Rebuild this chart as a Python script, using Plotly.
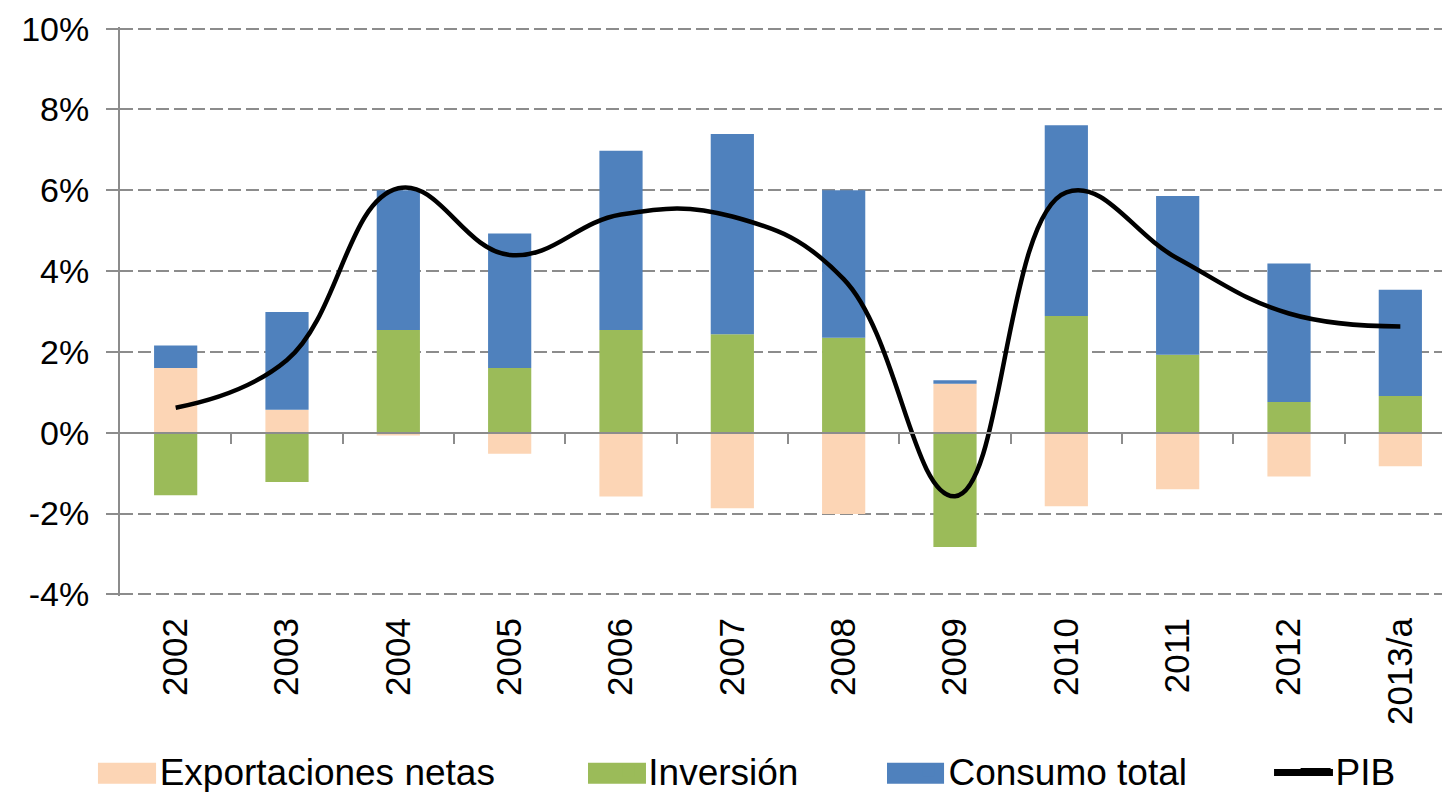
import plotly.graph_objects as go

years = ["2002", "2003", "2004", "2005", "2006", "2007", "2008", "2009", "2010", "2011", "2012", "2013/a"]
exportaciones_netas = [1.60, 0.57, -0.07, -0.52, -1.58, -1.87, -2.01, 1.21, -1.82, -1.40, -1.08, -0.83]
inversion = [-1.55, -1.22, 2.54, 1.60, 2.54, 2.44, 2.35, -2.83, 2.89, 1.93, 0.76, 0.91]
consumo_total = [0.56, 2.42, 3.46, 3.33, 4.44, 4.95, 3.65, 0.09, 4.72, 3.93, 3.43, 2.63]
pib = [0.62, 1.80, 6.05, 4.40, 5.40, 5.35, 3.80, -1.57, 5.95, 4.31, 2.95, 2.63]
y_ticks = [-4, -2, 0, 2, 4, 6, 8, 10]
y_tick_labels = [f"{v}%" for v in y_ticks]

FONT = "Liberation Sans, Arial, sans-serif"
GRAY = "#8c8c8c"
C_EXP = "#FCD5B5"
C_INV = "#9BBB59"
C_CON = "#4F81BD"

Y_MIN, Y_MAX = -4.04, 10.04

fig = go.Figure()
fig.add_trace(go.Bar(x=years, y=exportaciones_netas, name="Exportaciones netas",
                     marker=dict(color=C_EXP, line=dict(width=0)), legend="legend"))
fig.add_trace(go.Bar(x=years, y=inversion, name="Inversión",
                     marker=dict(color=C_INV, line=dict(width=0)), legend="legend2"))
fig.add_trace(go.Bar(x=years, y=consumo_total, name="Consumo total",
                     marker=dict(color=C_CON, line=dict(width=0)), legend="legend3"))
fig.add_trace(go.Scatter(x=years, y=pib, name="PIB", mode="lines",
                         line=dict(color="black", width=4.5, shape="spline", smoothing=1.2),
                         legend="legend4"))
# helper trace so the zero-level axis (x2) exists
fig.add_trace(go.Scatter(x=list(range(len(years))), y=pib, xaxis="x2", mode="lines",
                         opacity=0, showlegend=False, hoverinfo="skip"))

legend_common = dict(orientation="h", xref="container", yref="container",
                     yanchor="middle", y=0.037, xanchor="left",
                     font=dict(family=FONT, size=37, color="black"),
                     bgcolor="rgba(0,0,0,0)", borderwidth=0)

# wider legend swatches (Excel style), placed under the legend symbols
swatches = [
    (C_EXP, -0.0165, 0.0270),
    (C_INV, 0.3503, 0.3937),
    (C_CON, 0.5741, 0.6168),
]
shapes = [dict(type="rect", xref="paper", yref="paper", x0=a, x1=b,
               y0=-0.3298, y1=-0.2929, fillcolor=c, line=dict(width=0), layer="above")
          for c, a, b in swatches]
shapes.append(dict(type="line", xref="paper", yref="paper", x0=0.8638, x1=0.9079,
                   y0=-0.3104, y1=-0.3104, line=dict(color="black", width=7), layer="above"))

fig.update_layout(
    width=1450, height=792,
    margin=dict(l=112, r=2, t=19.4, b=204.4, autoexpand=False),
    paper_bgcolor="white", plot_bgcolor="white",
    barmode="relative", bargap=0.612,
    font=dict(family=FONT, size=34, color="black"),
    legend=dict(x=0.077, **legend_common),
    legend2=dict(x=0.414, **legend_common),
    legend3=dict(x=0.621, **legend_common),
    legend4=dict(x=0.888, **legend_common),
    shapes=shapes,
    xaxis=dict(type="category", categoryorder="array", categoryarray=years,
               range=[-0.5, len(years) - 0.5],
               tickangle=-90, showgrid=False, showline=False, ticks="",
               tickfont=dict(family=FONT, size=35, color="black"),
               ticklabelstandoff=14),
    xaxis2=dict(overlaying="x", anchor="free", position=(0 - Y_MIN) / (Y_MAX - Y_MIN),
                range=[-0.5, len(years) - 0.5],
                tickvals=[i + 0.5 for i in range(len(years) - 1)],
                showticklabels=False, ticks="outside", ticklen=10, tickwidth=2,
                tickcolor=GRAY, showline=True, linecolor=GRAY, linewidth=2,
                showgrid=False, zeroline=False),
    yaxis=dict(range=[Y_MIN, Y_MAX], tickmode="array", tickvals=y_ticks,
               ticktext=y_tick_labels,
               showgrid=True, gridcolor=GRAY, gridwidth=2, griddash="13px,5px",
               zeroline=False, showline=True, linecolor=GRAY, linewidth=2,
               ticks="outside", ticklen=12, tickwidth=2, tickcolor=GRAY,
               tickfont=dict(family=FONT, size=34, color="black"),
               ticklabelstandoff=10),
)

fig.write_html("out.html")
